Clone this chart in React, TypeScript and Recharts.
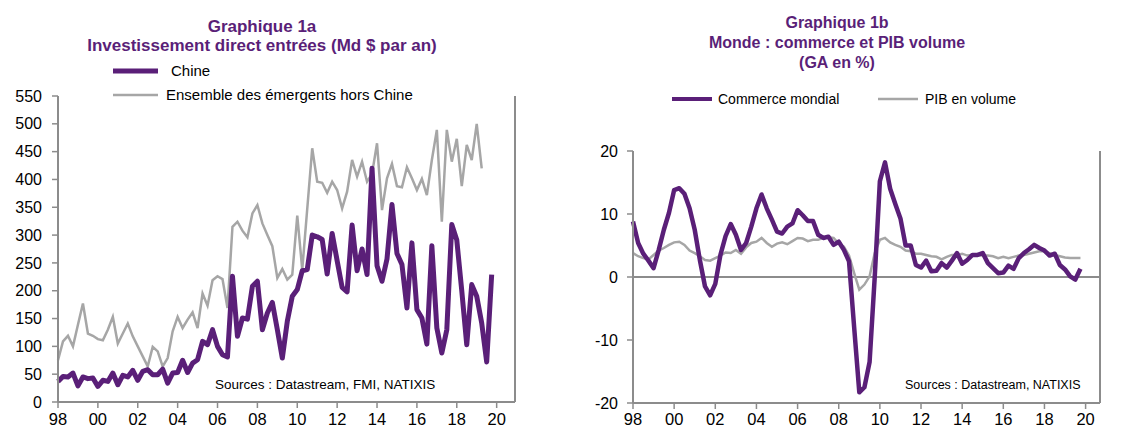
import React from 'react';
import {
  LineChart,
  Line,
  XAxis,
  YAxis,
  ReferenceLine,
} from 'recharts';

// quarterly, 1998Q1 .. 2019Q4
const firstYear = 1998;

const chine = [
  37, 46, 45, 52,
  29, 45, 42, 43,
  28, 39, 37, 52,
  31, 48, 45, 57,
  39, 55, 58, 49,
  49, 59, 34, 52,
  53, 75, 53, 70,
  76, 109, 103, 130,
  100, 85, 81, 226,
  118, 151, 149, 208,
  217, 130, 160, 179,
  130, 79, 145, 190,
  202, 236, 238, 300,
  297, 292, 230, 303,
  254, 206, 198, 318,
  236, 275, 229, 420,
  245, 217, 257, 355,
  267, 247, 169, 286,
  166, 151, 104, 281,
  133, 88, 130, 319,
  291, 200, 103, 211,
  190, 142, 72, 229,
];

const emergents: (number | null)[] = [
  75, 109, 119, 100,
  139, 177, 123, 119,
  113, 111, 130, 153,
  105, 123, 141, 118,
  100, 82, 64, 99,
  91, 64, 79, 127,
  153, 133, 148, 161,
  133, 195, 173, 219,
  226, 221, 169, 315,
  324, 308, 296, 339,
  354, 321, 300, 280,
  223, 239, 220, 229,
  335, 238, 347, 456,
  396, 394, 376, 396,
  381, 348, 378, 435,
  405, 432, 396, 410,
  465, 345, 402, 428,
  388, 386, 422, 402,
  381, 401, 372, 435,
  489, 324, 489, 432,
  473, 388, 462, 435,
  500, 420, null, null,
];

const commerce = [
  8.8, 5.4, 3.7, 2.6,
  1.4, 4.3, 7.5, 10.2,
  13.8, 14.1, 13.2, 10.9,
  7.5, 2.7, -1.5, -2.9,
  -1.1, 3.5, 6.5, 8.4,
  6.7, 4.3, 5.4, 8.0,
  10.9, 13.1, 10.9, 9.1,
  7.2, 6.9, 8.0, 8.5,
  10.6, 9.8, 8.9, 8.9,
  6.7, 6.2, 6.4, 5.1,
  5.6, 4.3, 2.5, -8.0,
  -18.3, -17.5, -13.5, 0.0,
  15.2, 18.2, 14.0, 11.6,
  9.3, 5.0, 5.0, 1.9,
  1.5, 2.6, 0.9, 1.0,
  2.2, 1.5, 2.6, 3.8,
  2.1, 2.7, 3.5, 3.5,
  3.8, 2.2, 1.4, 0.6,
  0.7, 1.8, 1.3, 3.0,
  3.8, 4.4, 5.1, 4.6,
  4.2, 3.4, 3.7, 1.9,
  1.2, 0.1, -0.4, 1.3,
];

const pib = [
  3.8, 3.3, 3.0, 2.8,
  3.5, 4.2, 4.6, 5.1,
  5.5, 5.6, 5.1, 4.2,
  3.8, 3.3, 2.7, 2.6,
  3.0, 3.4, 3.9, 3.8,
  4.3, 3.7, 4.7, 5.4,
  5.6, 6.2, 5.4, 4.8,
  5.3, 5.5, 5.2, 5.7,
  6.2, 6.1, 5.7, 5.9,
  5.9, 6.2, 6.3, 6.2,
  5.3, 4.8, 3.4, 0.6,
  -2.0, -1.2, 0.1, 3.8,
  5.9, 6.2, 5.5, 5.1,
  4.8, 4.2, 4.1, 3.7,
  3.7, 3.5, 3.3, 3.2,
  2.8, 3.2, 3.5, 3.5,
  3.7, 3.4, 3.5, 3.5,
  3.4, 3.4, 3.3, 3.0,
  3.2, 3.0, 3.2, 3.4,
  3.5, 3.7, 3.9, 4.1,
  4.1, 3.8, 3.5, 3.3,
  3.1, 3.0, 3.0, 3.0,
];

const yearTicks = [1998, 2000, 2002, 2004, 2006, 2008, 2010, 2012, 2014, 2016, 2018, 2020];
const ticksA = [0, 50, 100, 150, 200, 250, 300, 350, 400, 450, 500, 550];
const ticksB = [-20, -10, 0, 10, 20];

const dataA = chine.map((v, i) => ({ t: firstYear + i / 4, chine: v, emergents: emergents[i] }));
const dataB = commerce.map((v, i) => ({ t: firstYear + i / 4, commerce: v, pib: pib[i] }));

const PURPLE = '#5A1F78';
const GREY = '#A6A6A6';
const AXIS = '#8C8C8C';
const FONT = '"Liberation Sans", Arial, sans-serif';

const yearLabel = (v: number) => String(v % 100).padStart(2, '0');

const axisLine = { stroke: AXIS, strokeWidth: 2 };
const tickLine = { stroke: AXIS, strokeWidth: 1.5 };

const Swatch = ({ color, w, h }: { color: string; w: number; h: number }) => (
  <svg width={w} height={12} style={{ position: 'absolute', left: 0, top: -6 }}>
    <line x1={0} y1={6} x2={w} y2={6} stroke={color} strokeWidth={h} />
  </svg>
);

const LegendItem = ({ x, y, textX, color, w, h, size, label }: any) => (
  <>
    <div style={{ position: 'absolute', left: x, top: y }}>
      <Swatch color={color} w={w} h={h} />
    </div>
    <div
      style={{
        position: 'absolute',
        left: textX,
        top: y - 10,
        height: 20,
        lineHeight: '20px',
        fontSize: size,
        whiteSpace: 'nowrap',
      }}
    >
      {label}
    </div>
  </>
);

const App = () => (
  <div
    style={{
      position: 'absolute',
      left: 0,
      top: 0,
      width: 1141,
      height: 430,
      background: '#fff',
      fontFamily: FONT,
      color: '#000',
    }}
  >
    {/* Graphique 1a */}
    <div
      style={{
        position: 'absolute',
        left: 12,
        top: 17,
        width: 500,
        textAlign: 'center',
        fontWeight: 'bold',
        fontSize: 17,
        lineHeight: '19px',
        color: PURPLE,
      }}
    >
      Graphique 1a
      <br />
      Investissement direct entrées (Md $ par an)
    </div>
    <LegendItem x={113} y={71} textX={171} color={PURPLE} w={45} h={5} size={15} label="Chine" />
    <LegendItem x={113} y={95} textX={166} color={GREY} w={45} h={2.5} size={15} label="Ensemble des émergents hors Chine" />

    <div style={{ position: 'absolute', left: 0, top: 0 }}>
      <LineChart width={560} height={430} data={dataA} margin={{ top: 96, right: 0, bottom: 0, left: 0 }}>
        <XAxis
          dataKey="t"
          type="number"
          domain={[1998, 2020.92]}
          ticks={yearTicks}
          tickFormatter={yearLabel}
          interval={0}
          height={28}
          axisLine={axisLine}
          tickLine={tickLine}
          tickSize={6}
          tickMargin={5}
          tick={{ fontSize: 16.5, fill: '#000', fontFamily: FONT }}
        />
        <YAxis
          yAxisId="l"
          domain={[0, 550]}
          ticks={ticksA}
          interval={0}
          width={58}
          axisLine={axisLine}
          tickLine={tickLine}
          tickSize={6}
          tickMargin={10}
          tick={{ fontSize: 16, fill: '#000', fontFamily: FONT }}
        />
        <YAxis
          yAxisId="r"
          orientation="right"
          domain={[0, 550]}
          ticks={ticksA}
          interval={0}
          width={45}
          axisLine={axisLine}
          tickLine={tickLine}
          tickSize={6}
          tickMargin={7}
          tick={{ fontSize: 16, fill: '#000', fontFamily: FONT, textAnchor: 'start' }}
        />
        <Line
          yAxisId="l"
          type="linear"
          dataKey="emergents"
          stroke={GREY}
          strokeWidth={2.5}
          dot={false}
          isAnimationActive={false}
        />
        <Line
          yAxisId="l"
          type="linear"
          dataKey="chine"
          stroke={PURPLE}
          strokeWidth={5}
          strokeLinejoin="round"
          dot={false}
          isAnimationActive={false}
        />
      </LineChart>
    </div>
    <div style={{ position: 'absolute', left: 215, top: 376, fontSize: 13.5, lineHeight: '18px', whiteSpace: 'nowrap' }}>
      Sources : Datastream, FMI, NATIXIS
    </div>

    {/* Graphique 1b */}
    <div
      style={{
        position: 'absolute',
        left: 637,
        top: 13,
        width: 400,
        textAlign: 'center',
        fontWeight: 'bold',
        fontSize: 16,
        lineHeight: '20px',
        color: PURPLE,
      }}
    >
      Graphique 1b
      <br />
      Monde : commerce et PIB volume
      <br />
      (GA en %)
    </div>
    <LegendItem x={672} y={99} textX={718} color={PURPLE} w={40} h={4} size={14} label="Commerce mondial" />
    <LegendItem x={878} y={99} textX={925} color={GREY} w={40} h={2.5} size={14} label="PIB en volume" />

    <div style={{ position: 'absolute', left: 570, top: 0 }}>
      <LineChart width={571} height={430} data={dataB} margin={{ top: 151, right: 0, bottom: 0, left: 0 }}>
        <XAxis
          dataKey="t"
          type="number"
          domain={[1998, 2020.7]}
          ticks={yearTicks}
          tickFormatter={yearLabel}
          interval={0}
          height={27}
          axisLine={axisLine}
          tickLine={tickLine}
          tickSize={6}
          tickMargin={4}
          tick={{ fontSize: 16.5, fill: '#000', fontFamily: FONT }}
        />
        <YAxis
          yAxisId="l"
          domain={[-20, 20]}
          ticks={ticksB}
          interval={0}
          width={63}
          axisLine={axisLine}
          tickLine={tickLine}
          tickSize={6}
          tickMargin={9}
          tick={{ fontSize: 16, fill: '#000', fontFamily: FONT }}
        />
        <YAxis
          yAxisId="r"
          orientation="right"
          domain={[-20, 20]}
          ticks={ticksB}
          interval={0}
          width={41}
          axisLine={axisLine}
          tickLine={tickLine}
          tickSize={6}
          tickMargin={7}
          tick={{ fontSize: 16, fill: '#000', fontFamily: FONT, textAnchor: 'start' }}
        />
        <ReferenceLine yAxisId="l" y={0} stroke={AXIS} strokeWidth={2} />
        <Line
          yAxisId="l"
          type="linear"
          dataKey="pib"
          stroke={GREY}
          strokeWidth={2.5}
          dot={false}
          isAnimationActive={false}
        />
        <Line
          yAxisId="l"
          type="linear"
          dataKey="commerce"
          stroke={PURPLE}
          strokeWidth={4.5}
          strokeLinejoin="round"
          dot={false}
          isAnimationActive={false}
        />
      </LineChart>
    </div>
    <div style={{ position: 'absolute', left: 905, top: 376, fontSize: 12.5, lineHeight: '18px', whiteSpace: 'nowrap' }}>
      Sources : Datastream, NATIXIS
    </div>
  </div>
);

export default App;
